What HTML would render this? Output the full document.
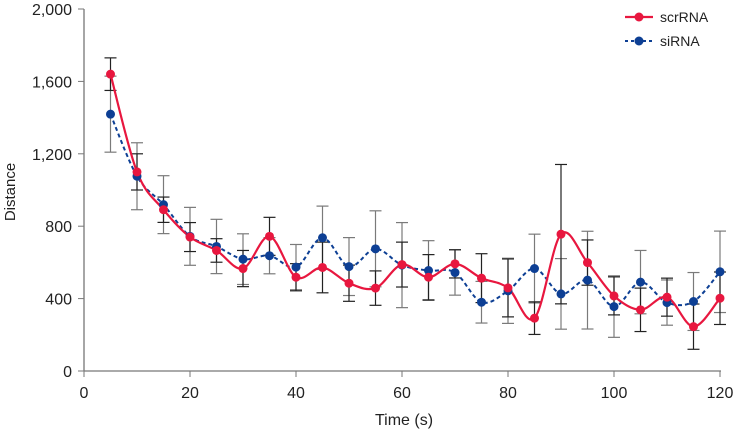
<!DOCTYPE html>
<html><head><meta charset="utf-8"><style>
body{margin:0;background:#fff;}
svg text{font-family:"Liberation Sans",sans-serif;fill:#222;}
</style></head><body>
<svg id="chart" width="735" height="430" viewBox="0 0 735 430" xmlns="http://www.w3.org/2000/svg">
<g id="axes"></g><g id="errs"></g><g id="lines"></g><g id="pts"></g>
<g>
<line x1="625" y1="17" x2="653" y2="17" stroke="#e8173f" stroke-width="2.2"/>
<circle cx="639" cy="17" r="4.5" fill="#e8173f"/>
<text x="660" y="22" font-size="14">scrRNA</text>
<line x1="625" y1="41" x2="653" y2="41" stroke="#0d3f94" stroke-width="2" stroke-dasharray="3,3"/>
<circle cx="639" cy="41" r="4.5" fill="#0d3f94"/>
<text x="660" y="46" font-size="14">siRNA</text>
</g>
</svg>
<script>
const times=[5,10,15,20,25,30,35,40,45,50,55,60,65,70,75,80,85,90,95,100,105,110,115,120];
const scrRNA=[1640,1100,891,740,666,566,744,518,572,485,458,588,518,592,513,459,292,756,599,415,338,408,245,402];
const scrErr=[90,100,70,80,65,100,105,75,140,100,95,124,125,78,135,160,90,385,125,105,120,105,125,145];
const siRNA=[1419,1076,919,744,688,618,637,574,736,577,675,585,555,544,380,443,566,426,502,356,491,378,384,548];
const siErr=[210,185,160,160,150,140,100,125,175,160,210,235,165,125,115,180,190,195,270,170,175,125,160,225];
const xTicks=[0,20,40,60,80,100,120];
const yTicks=[0,400,800,1200,1600,2000];
const yLabels=["0","400","800","1,200","1,600","2,000"];
const NS="http://www.w3.org/2000/svg";
const X=v=>84+v*(636/120), Y=v=>371-v*(362/2000);
function mk(t,a,p){const e=document.createElementNS(NS,t);for(const k in a)e.setAttribute(k,a[k]);document.getElementById(p).appendChild(e);return e;}
let e=mk('line',{x1:84,y1:9,x2:84,y2:371,stroke:'#777','stroke-width':1.3},'axes');

e=mk('line',{x1:84,y1:371,x2:721,y2:371,stroke:'#777','stroke-width':1.3},'axes');

xTicks.forEach(t=>{mk('line',{x1:X(t),y1:371,x2:X(t),y2:377,stroke:'#777'},'axes');
 e=mk('text',{x:X(t),y:398,'font-size':16,'text-anchor':'middle'},'axes');e.textContent=t;
 });
yTicks.forEach((t,i)=>{mk('line',{x1:78,y1:Y(t),x2:84,y2:Y(t),stroke:'#777'},'axes');
 e=mk('text',{x:72,y:Y(t)+6,'font-size':16,'text-anchor':'end'},'axes');e.textContent=yLabels[i];
 });
e=mk('text',{x:404,y:425,'font-size':16,'text-anchor':'middle'},'axes');e.textContent='Time (s)';

e=mk('text',{x:15,y:192,'font-size':15,'text-anchor':'middle',transform:'rotate(-90 15 192)'},'axes');e.textContent='Distance';

function errs(vals,er,col,name){vals.forEach((v,i)=>{const x=X(times[i]),a=Y(v+er[i]),b=Y(v-er[i]);
 const g=mk('g',{stroke:col,'stroke-width':1.2},'errs');
 
 [[x,a,x,b],[x-6,a,x+6,a],[x-6,b,x+6,b]].forEach(c=>{const l=document.createElementNS(NS,'line');
 l.setAttribute('x1',c[0]);l.setAttribute('y1',c[1]);l.setAttribute('x2',c[2]);l.setAttribute('y2',c[3]);g.appendChild(l);});});}
errs(siRNA,siErr,'#7a7a7a','sirna-error-bar');
errs(scrRNA,scrErr,'#222','scrrna-error-bar');
function path(vals){const p=vals.map((v,i)=>[X(times[i]),Y(v)]);let d='M'+p[0];
 for(let i=0;i<p.length-1;i++){const p0=p[i-1]||p[i],p1=p[i],p2=p[i+1],p3=p[i+2]||p2;
 d+=' C'+(p1[0]+(p2[0]-p0[0])/6)+','+(p1[1]+(p2[1]-p0[1])/6)+' '+(p2[0]-(p3[0]-p1[0])/6)+','+(p2[1]-(p3[1]-p1[1])/6)+' '+p2;}return d;}
e=mk('path',{d:path(siRNA),fill:'none',stroke:'#0d3f94','stroke-width':2,'stroke-dasharray':'4,3'},'lines');

e=mk('path',{d:path(scrRNA),fill:'none',stroke:'#e8173f','stroke-width':2.2},'lines');

siRNA.forEach((v,i)=>{e=mk('circle',{cx:X(times[i]),cy:Y(v),r:4.5,fill:'#0d3f94'},'pts');
 });
scrRNA.forEach((v,i)=>{e=mk('circle',{cx:X(times[i]),cy:Y(v),r:4.5,fill:'#e8173f'},'pts');
 });
</script>
</body></html>
